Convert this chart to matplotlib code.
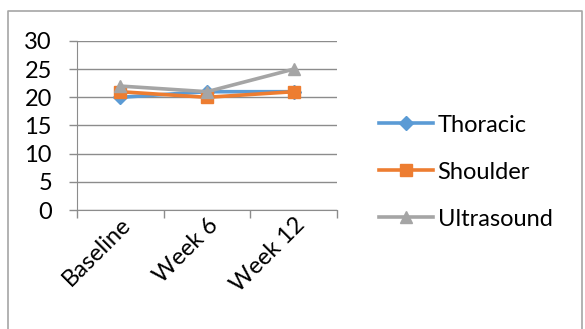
import matplotlib.pyplot as plt
from matplotlib.lines import Line2D
from matplotlib.ticker import FixedLocator, NullFormatter

plt.rcParams['font.family'] = ['Lato', 'DejaVu Sans']

categories = ['Baseline', 'Week 6', 'Week 12']
thoracic = [20, 21, 21]
shoulder = [21, 20, 21]
ultrasound = [22, 21, 25]

series = [
    ('Thoracic', thoracic, '#5B9BD5', 'D', 7),
    ('Shoulder', shoulder, '#ED7D31', 's', 8),
    ('Ultrasound', ultrasound, '#A5A5A5', '^', 9),
]

fig = plt.figure(figsize=(5.85, 3.29), dpi=100)
ax = fig.add_axes([0.1316, 0.3617, 0.4444, 0.5137])

x = list(range(len(categories)))
for name, vals, color, marker, ms in series:
    ax.plot(x, vals, color=color, linewidth=2.6, marker=marker, markersize=ms,
            markeredgecolor=color, label=name)

grid_color = '#8C8C8C'
ax.set_xlim(-0.5, len(categories) - 0.5)
ax.set_ylim(0, 30)
ax.set_yticks(range(0, 31, 5))
ax.yaxis.grid(True, color=grid_color, linewidth=1)
ax.set_axisbelow(True)
ax.tick_params(axis='y', length=6, width=1, color=grid_color, labelsize=17, pad=12)

# category labels sit between the boundary tick marks
ax.set_xticks(x)
ax.set_xticklabels(categories, rotation=45, ha='right', rotation_mode='anchor', fontsize=17)
ax.tick_params(axis='x', which='major', length=0, pad=3)
ax.xaxis.set_minor_locator(FixedLocator([-0.5, 0.5, 1.5, 2.5]))
ax.xaxis.set_minor_formatter(NullFormatter())
ax.tick_params(axis='x', which='minor', length=6, width=1, color=grid_color)

for side in ['top', 'right']:
    ax.spines[side].set_visible(False)
ax.spines['left'].set_color(grid_color)
ax.spines['bottom'].set_color(grid_color)

ax.legend(loc='center left', bbox_to_anchor=(0.627, 0.477), bbox_transform=fig.transFigure,
          frameon=False, fontsize=17, handlelength=2.3, handletextpad=0.2, labelspacing=1.1,
          borderpad=0)

# chart frame: left, top and right edges only
bx0, bx1, by0, by1 = 8 / 585, 582 / 585, 0.0, 1 - 11 / 329
fig.add_artist(Line2D([bx0, bx0, bx1, bx1], [by0, by1, by1, by0], transform=fig.transFigure,
                      color='#A6A6A6', linewidth=1.2))

fig.savefig('out.png', dpi=100)
